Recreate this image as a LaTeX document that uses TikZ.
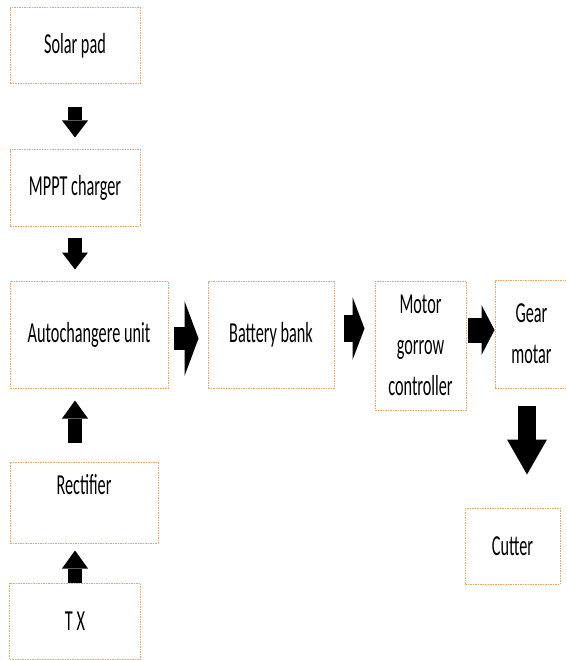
\documentclass[tikz,border=0pt]{standalone}
\usepackage{fontspec}
\setmainfont{Carlito}[FakeStretch=0.56]
\usetikzlibrary{arrows.meta}
\definecolor{boxorange}{RGB}{247,160,90}

\begin{document}
\begin{tikzpicture}[x=1pt, y=-1pt,
  box/.style={draw=boxorange, line width=1pt, dash pattern=on 1.5pt off 1pt,
    inner sep=0pt, align=center, font=\fontsize{29}{41}\selectfont},
  blockarrow/.style={line width=#1}]
\clip (0,0) rectangle (566,660);
\fill[white] (0,0) rectangle (566,660);

% left column
\node[box, minimum width=130pt, minimum height=76pt] (solar) at (75,46) {Solar pad};
\node[box, minimum width=130pt, minimum height=76pt] (mppt) at (75,188) {MPPT charger};
\node[box, minimum width=158pt, minimum height=107pt] (auto) at (89,334.5) {Autochangere unit};
\node[box, minimum width=148pt, minimum height=81pt] (rect) at (84,502.5) {};
\node[font=\fontsize{29}{41}\selectfont] (recttext) at (84,485) {Rectifier};
\node[box, minimum width=131pt, minimum height=76pt] (tx) at (75,621) {T X};

% middle row
\node[box, minimum width=126pt, minimum height=107pt] (battery) at (271,334.5) {Battery bank};
\node[box, minimum width=91pt, minimum height=129pt] (motor) at (420.5,345.5) {Motor\\gorrow\\controller};
\node[box, minimum width=73pt, minimum height=108pt] (gear) at (531.5,334) {Gear\\motar};
\node[box, minimum width=95pt, minimum height=76pt] (cutter) at (512.5,546) {Cutter};

% block arrows
\draw[blockarrow=14pt, -{Triangle[width=26pt,length=17pt,line width=0pt]},
  shorten <=23pt, shorten >=12pt] (solar.south) -- (mppt.north);
\draw[blockarrow=14pt, -{Triangle[width=26pt,length=17pt,line width=0pt]},
  shorten <=11pt, shorten >=11pt] (mppt.south) -- (mppt.south |- auto.north);
\draw[blockarrow=14pt, -{Triangle[width=26pt,length=18pt,line width=0pt]},
  shorten <=19pt, shorten >=12pt] ([xshift=-9pt]rect.north) -- ([xshift=-9pt]rect.north |- auto.south);
\draw[blockarrow=14pt, -{Triangle[width=26pt,length=18pt,line width=0pt]},
  shorten >=7pt] (tx.north) -- (tx.north |- rect.south);
\draw[blockarrow=23pt, -{Triangle[width=75pt,length=14pt,line width=0pt]},
  shorten <=5pt, shorten >=9pt] ([yshift=-4pt]auto.east) -- ([yshift=-4pt]battery.west);
\draw[blockarrow=27pt, -{Triangle[width=63pt,length=12pt,line width=0pt]},
  shorten <=9pt, shorten >=10pt] ([yshift=6pt]battery.east) -- ([yshift=6pt]battery.east -| motor.west);
\draw[blockarrow=25pt, -{Triangle[width=50pt,length=13pt,line width=0pt]},
  shorten <=1pt] ([yshift=4pt]motor.east |- gear.west) -- ([yshift=4pt]gear.west);
\draw[blockarrow=18pt, -{Triangle[width=40pt,length=35pt,line width=0pt]},
  shorten <=17pt, shorten >=33pt] ([xshift=14.5pt]cutter.north |- gear.south) -- ([xshift=14.5pt]cutter.north);
\end{tikzpicture}
\end{document}
